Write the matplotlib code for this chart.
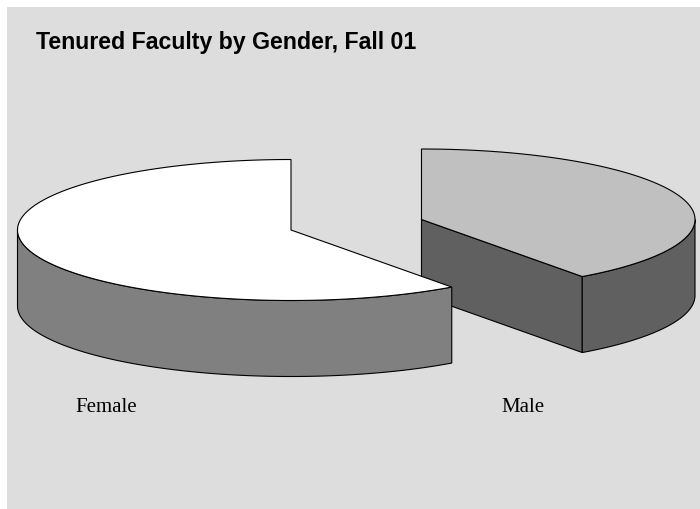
import numpy as np
from matplotlib import pyplot as plt
from matplotlib.patches import Rectangle

labels = ['Female', 'Male']
shares = [60, 40]
title = 'Tenured Faculty by Gender, Fall 01'

top_colors = ['#FFFFFF', '#C0C0C0']
side_colors = ['#808080', '#606060']

centers = [(291, 230), (421.5, 219.5)]
label_pos = [(106, 412.5), (522.8, 412.5)]
rx, ry, depth = 273.5, 70.5, 76
lw = 0.8

fig = plt.figure(figsize=(7, 5.09), dpi=100, facecolor='white')
ax = fig.add_axes([0, 0, 1, 1])
ax.set_xlim(0, 700)
ax.set_ylim(509, 0)
ax.axis('off')
ax.add_patch(Rectangle((7, 7), 693, 502, facecolor='#DDDDDD', edgecolor='none'))


def arc(cx, cy, a0, a1):
    t = np.radians(np.linspace(a0, a1, 200))
    return cx + rx * np.cos(t), cy - ry * np.sin(t)


def rim(cx, cy, a0, a1, color, z):
    x, y = arc(cx, cy, a0, a1)
    ax.fill(np.r_[x, x[::-1]], np.r_[y, y[::-1] + depth],
            facecolor=color, edgecolor='black', linewidth=lw, zorder=z)


def top(cx, cy, a0, a1, color, z):
    x, y = arc(cx, cy, a0, a1)
    ax.fill(np.r_[cx, x], np.r_[cy, y], facecolor=color, edgecolor='black',
            linewidth=lw, zorder=z)


# slices start at 12 o'clock, female goes left, male goes right
total = sum(shares)
female_end = 90 + 360 * shares[0] / total
male_end = 90 - 360 * shares[1] / total

# male first, the female slice sits in front of it
cx, cy = centers[1]
ex, ey = arc(cx, cy, male_end, male_end)
ax.fill([cx, ex[0], ex[0], cx], [cy, ey[0], ey[0] + depth, cy + depth],
        facecolor=side_colors[1], edgecolor='black', linewidth=lw, zorder=1)
rim(cx, cy, male_end, 0, side_colors[1], 2)
top(cx, cy, male_end, 90, top_colors[1], 3)

cx, cy = centers[0]
rim(cx, cy, 180, female_end, side_colors[0], 5)
top(cx, cy, 90, female_end, top_colors[0], 6)

ax.text(36, 49, title, family='Liberation Sans', fontweight='bold', fontsize=16.7,
        ha='left', va='baseline', color='black')
for name, pos in zip(labels, label_pos):
    ax.text(pos[0], pos[1], name, family='Liberation Serif', fontsize=15,
            ha='center', va='baseline', color='black')

plt.savefig('out.png', dpi=100)
